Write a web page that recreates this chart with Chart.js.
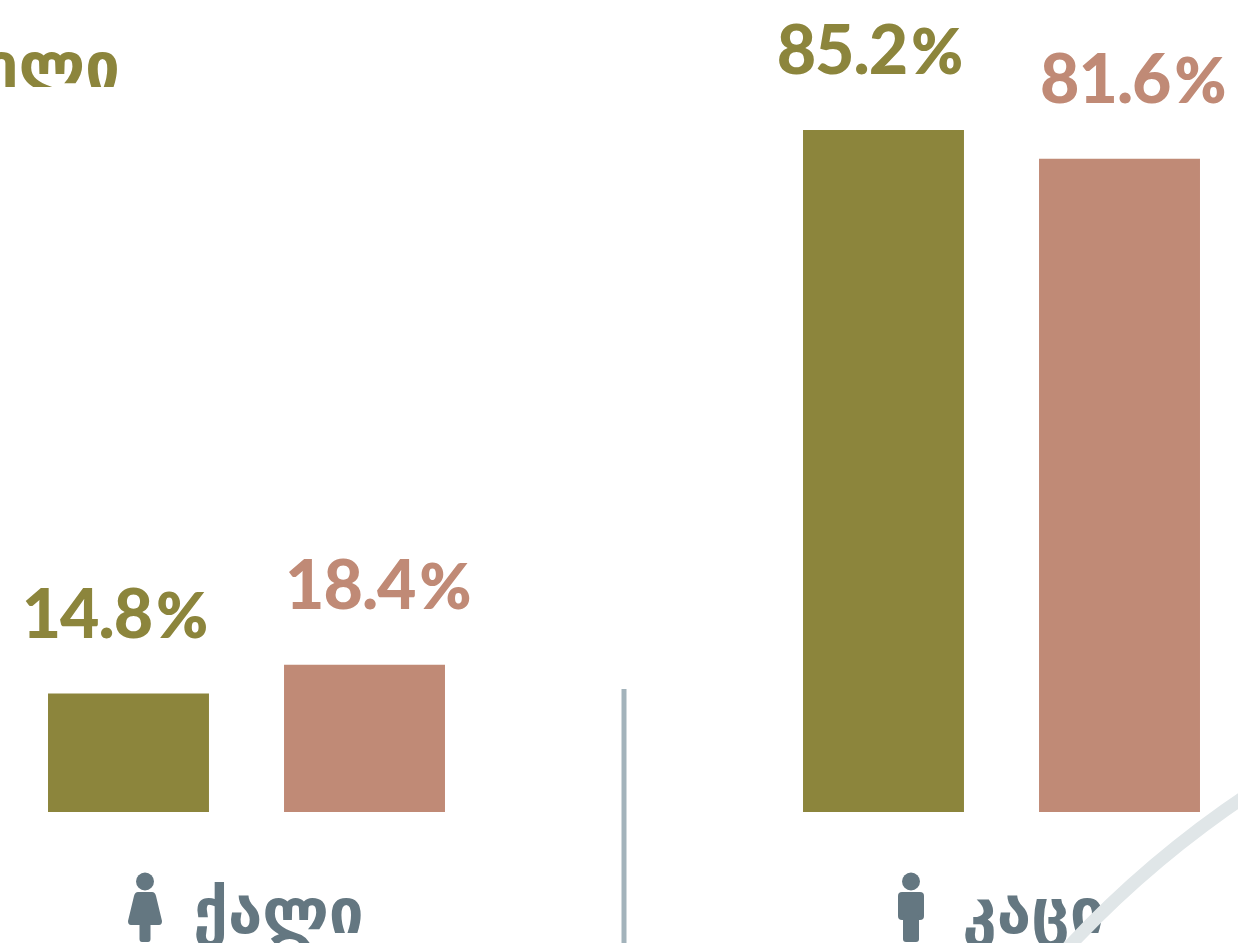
<!DOCTYPE html>
<html><head><meta charset="utf-8">
<script src="https://cdn.jsdelivr.net/npm/chart.js@4"></script>
<style>html,body{margin:0;padding:0;background:#fff;width:1238px;height:943px;overflow:hidden}
canvas{position:absolute;left:-131px;top:0}</style></head>
<body><canvas id="c" width="1510" height="943"></canvas>
<script>
const categories = ["ქალი", "კაცი"];
const seriesA = [14.8, 85.2];
const seriesB = [18.4, 81.6];
const legendFragment = "ელი";
const OLIVE = "#8c853c", SALMON = "#c08a76", SLATE = "#647781";
const NUM_FONT = '900 68px Lato', PCT_FONT = '800 62px Lato';

const decor = {
  id: "decor",
  beforeDatasetsDraw(chart) {
    const c = chart.ctx, x = chart.scales.x;
    c.save();
    c.strokeStyle = "#e0e6e8"; c.lineWidth = 13;
    c.beginPath(); c.moveTo(1250 + 131, 793); c.quadraticCurveTo(1145 + 131, 863, 1062 + 131, 954); c.stroke();
    const mid = (x.getPixelForValue(0) + x.getPixelForValue(1)) / 2;
    c.fillStyle = "#a3b3bb"; c.fillRect(mid - 2.5, 689, 5, 254);
    c.save(); c.beginPath(); c.rect(0, 0, 1510, 87); c.clip();
    c.fillStyle = OLIVE; c.font = 'bold 62px "DejaVu Sans"'; c.textAlign = "right"; c.textBaseline = "alphabetic";
    c.fillText(legendFragment, 120 + 131, 87); c.restore();
    c.fillStyle = SLATE;
    const f = x.getPixelForValue(0) - 101.5, m = x.getPixelForValue(1) - 90.5;
    c.beginPath(); c.arc(f, 881.5, 9, 0, 7); c.fill();
    c.beginPath(); c.moveTo(f - 7, 892); c.lineTo(f + 7, 892); c.quadraticCurveTo(f + 10, 892, f + 11, 896); c.lineTo(f + 17, 921); c.quadraticCurveTo(f + 17, 925, f + 14, 925);
    c.lineTo(f + 5.5, 925); c.lineTo(f + 5.5, 939); c.quadraticCurveTo(f + 5.5, 942, f + 3, 942); c.lineTo(f - 3, 942); c.quadraticCurveTo(f - 5.5, 942, f - 5.5, 939);
    c.lineTo(f - 5.5, 925); c.lineTo(f - 14, 925); c.quadraticCurveTo(f - 17, 925, f - 17, 921); c.lineTo(f - 11, 896); c.quadraticCurveTo(f - 10, 892, f - 7, 892); c.closePath(); c.fill();
    c.beginPath(); c.arc(m, 881.5, 9, 0, 7); c.fill();
    c.beginPath(); c.roundRect(m - 13, 892, 26, 28, 4); c.fill();
    c.beginPath(); c.roundRect(m - 8, 915, 16, 27, 3); c.fill();
    c.restore();
  },
  afterDatasetsDraw(chart) {
    const c = chart.ctx;
    c.save(); c.textBaseline = "alphabetic"; c.textAlign = "left";
    chart.data.datasets.forEach((d, di) => {
      chart.getDatasetMeta(di).data.forEach((bar, i) => {
        const num = d.data[i].toFixed(1);
        c.fillStyle = d.backgroundColor;
        c.letterSpacing = "-1px";
        c.font = NUM_FONT; const nw = c.measureText(num).width;
        c.letterSpacing = "0px";
        c.font = PCT_FONT; const pw = c.measureText("%").width;
        const gap = 4;
        const total = nw + gap + pw;
        const left = di === 0 ? bar.x + bar.width / 2 - 1 - total : bar.x - bar.width / 2 + 1;
        const base = bar.y - 56;
        c.letterSpacing = "-1px";
        c.font = NUM_FONT; c.fillText(num, left, base);
        c.letterSpacing = "0px";
        c.font = PCT_FONT; c.fillText("%", left + nw + gap, base);
      });
    });
    c.restore();
  }
};

new Chart(document.getElementById("c"), {
  type: "bar",
  data: {
    labels: categories,
    datasets: [
      { data: seriesA, backgroundColor: OLIVE },
      { data: seriesB, backgroundColor: SALMON }
    ]
  },
  options: {
    responsive: false, animation: false,
    layout: { padding: { top: 11.5, left: 0, right: 0, bottom: 0 } },
    datasets: { bar: { categoryPercentage: 0.6252, barPercentage: 0.682 } },
    plugins: { legend: { display: false }, tooltip: { enabled: false } },
    scales: {
      x: {
        grid: { display: false }, border: { display: false },
        afterFit(s) { s.height = 131; },
        ticks: { color: SLATE, font: { family: "DejaVu Sans", weight: "bold", size: 62 }, padding: 60, labelOffset: 32, maxRotation: 0, autoSkip: false }
      },
      y: { display: false, min: 0, max: 100 }
    }
  },
  plugins: [decor]
});
</script></body></html>
